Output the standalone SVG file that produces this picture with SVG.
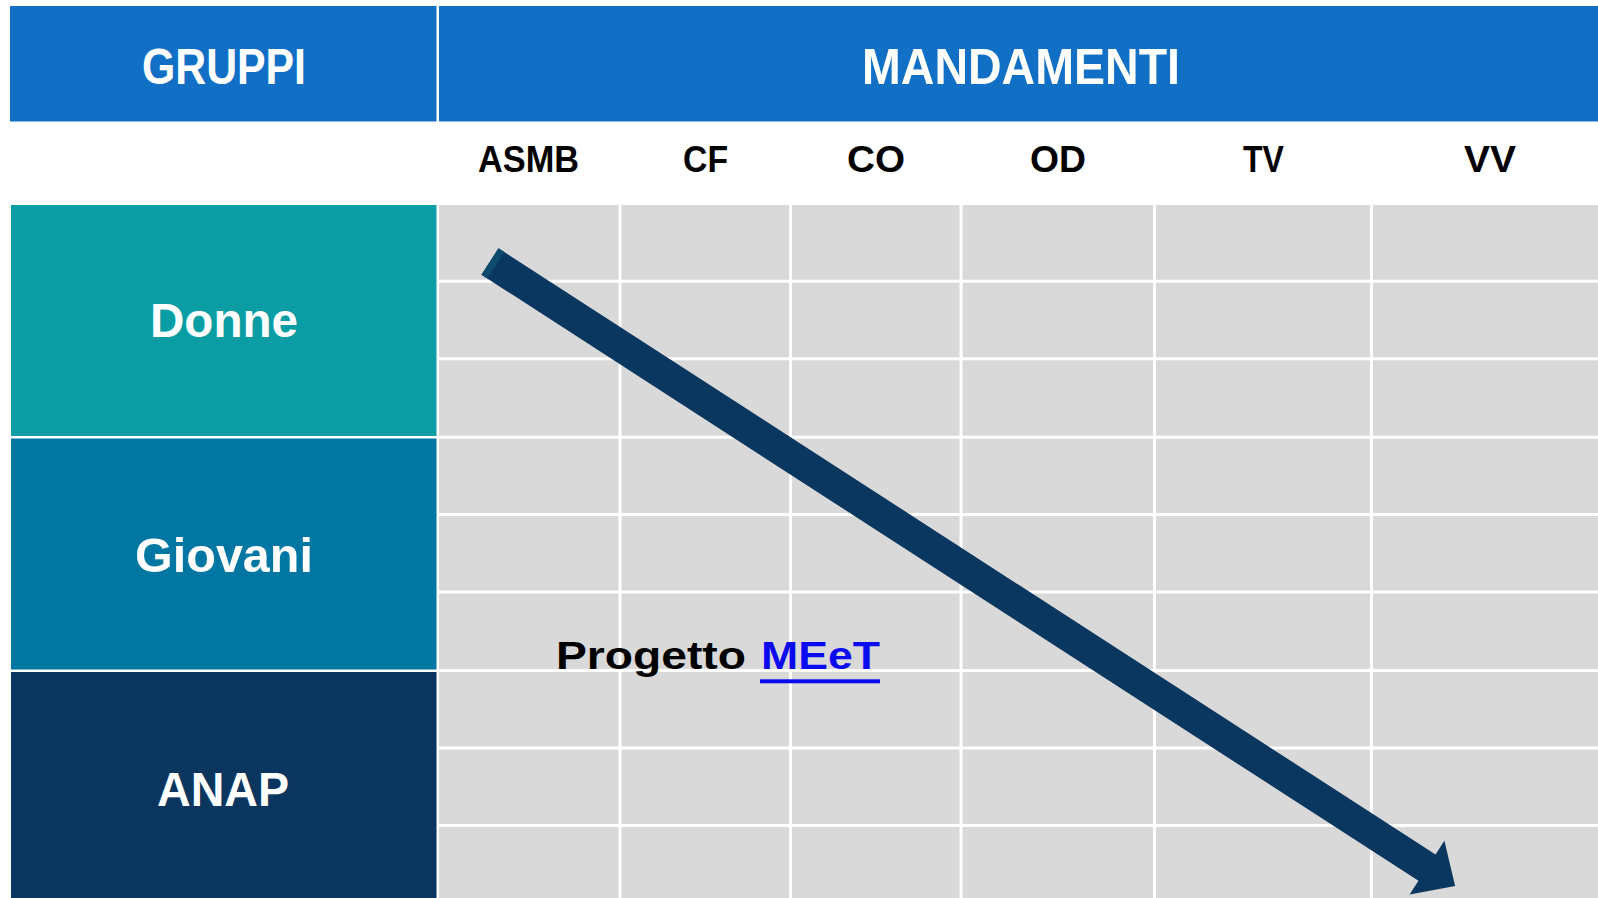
<svg xmlns="http://www.w3.org/2000/svg" width="1598" height="898" viewBox="0 0 1598 898">
  <style>
    .hdr { fill: #1170C6; }
    .hdrtxt { font-family: "Liberation Sans", Arial, sans-serif; font-weight: bold; font-size: 50px; fill: #FFFFFF; }
    .grptxt { font-family: "Liberation Sans", Arial, sans-serif; font-weight: bold; font-size: 48px; fill: #FFFFFF; }
    .coltxt { font-family: "Liberation Sans", Arial, sans-serif; font-weight: bold; font-size: 37px; fill: #000000; }
    .grid { fill: #D9D9D9; }
    .gl { stroke: #FFFFFF; stroke-width: 3; }
    .lbl { font-family: "Liberation Sans", Arial, sans-serif; font-weight: bold; font-size: 38px; fill: #000000; }
    .link { fill: #0A0AF0; }
  </style>
  <rect x="0" y="0" width="1598" height="898" fill="#FFFFFF"/>

  <g id="header-gruppi">
    <rect class="hdr" x="10" y="6" width="426.5" height="115.5"/>
    <text class="hdrtxt" x="142" y="84" textLength="164" lengthAdjust="spacingAndGlyphs">GRUPPI</text>
  </g>
  <g id="header-mandamenti">
    <rect class="hdr" x="439" y="6" width="1159" height="115.5"/>
    <text class="hdrtxt" x="862" y="84" textLength="318" lengthAdjust="spacingAndGlyphs">MANDAMENTI</text>
  </g>

  <g id="column-labels">
    <text class="coltxt" x="478" y="171.5" textLength="101" lengthAdjust="spacingAndGlyphs">ASMB</text>
    <text class="coltxt" x="683" y="171.5" textLength="45" lengthAdjust="spacingAndGlyphs">CF</text>
    <text class="coltxt" x="847" y="171.5" textLength="58" lengthAdjust="spacingAndGlyphs">CO</text>
    <text class="coltxt" x="1030" y="171.5" textLength="56" lengthAdjust="spacingAndGlyphs">OD</text>
    <text class="coltxt" x="1243" y="171.5" textLength="41" lengthAdjust="spacingAndGlyphs">TV</text>
    <text class="coltxt" x="1464" y="171.5" textLength="52" lengthAdjust="spacingAndGlyphs">VV</text>
  </g>

  <g id="group-donne">
    <rect x="11" y="205" width="425.5" height="231" fill="#0A9DA4"/>
    <text class="grptxt" x="150" y="337" textLength="148" lengthAdjust="spacingAndGlyphs">Donne</text>
  </g>
  <g id="group-giovani">
    <rect x="11" y="438.5" width="425.5" height="231" fill="#0077A2"/>
    <text class="grptxt" x="135" y="572" textLength="178" lengthAdjust="spacingAndGlyphs">Giovani</text>
  </g>
  <g id="group-anap">
    <rect x="11" y="672" width="425.5" height="226" fill="#0A355F"/>
    <text class="grptxt" x="157" y="806" textLength="132" lengthAdjust="spacingAndGlyphs">ANAP</text>
  </g>

  <g id="grid">
    <rect class="grid" x="439" y="205" width="1159" height="693"/>
    <line class="gl" x1="439" y1="281.3" x2="1598" y2="281.3"/>
    <line class="gl" x1="439" y1="358.7" x2="1598" y2="358.7"/>
    <line class="gl" x1="439" y1="437.2" x2="1598" y2="437.2"/>
    <line class="gl" x1="439" y1="514.6" x2="1598" y2="514.6"/>
    <line class="gl" x1="439" y1="592.1" x2="1598" y2="592.1"/>
    <line class="gl" x1="439" y1="670.6" x2="1598" y2="670.6"/>
    <line class="gl" x1="439" y1="748" x2="1598" y2="748"/>
    <line class="gl" x1="439" y1="825.5" x2="1598" y2="825.5"/>
    <line class="gl" x1="620" y1="205" x2="620" y2="898"/>
    <line class="gl" x1="790.5" y1="205" x2="790.5" y2="898"/>
    <line class="gl" x1="961" y1="205" x2="961" y2="898"/>
    <line class="gl" x1="1154.5" y1="205" x2="1154.5" y2="898"/>
    <line class="gl" x1="1371.5" y1="205" x2="1371.5" y2="898"/>
  </g>

  <g id="label-progetto">
    <text class="lbl" x="556" y="669" textLength="190" lengthAdjust="spacingAndGlyphs">Progetto</text>
    <text class="lbl link" x="761" y="669" textLength="119" lengthAdjust="spacingAndGlyphs">MEeT</text>
    <rect class="link" x="760" y="679.3" width="120" height="4"/>
  </g>

  <g id="connectors">
    <g transform="translate(490,261.5) rotate(32.9)">
      <polygon points="0,-15.7 1116,-15.7 1116,-32 1149.5,0 1116,32 1116,15.7 0,15.7" fill="#0A3760"/>
      <rect x="0" y="-15.7" width="7" height="31.4" fill="#0C4A6E"/>
    </g>
  </g>
</svg>
